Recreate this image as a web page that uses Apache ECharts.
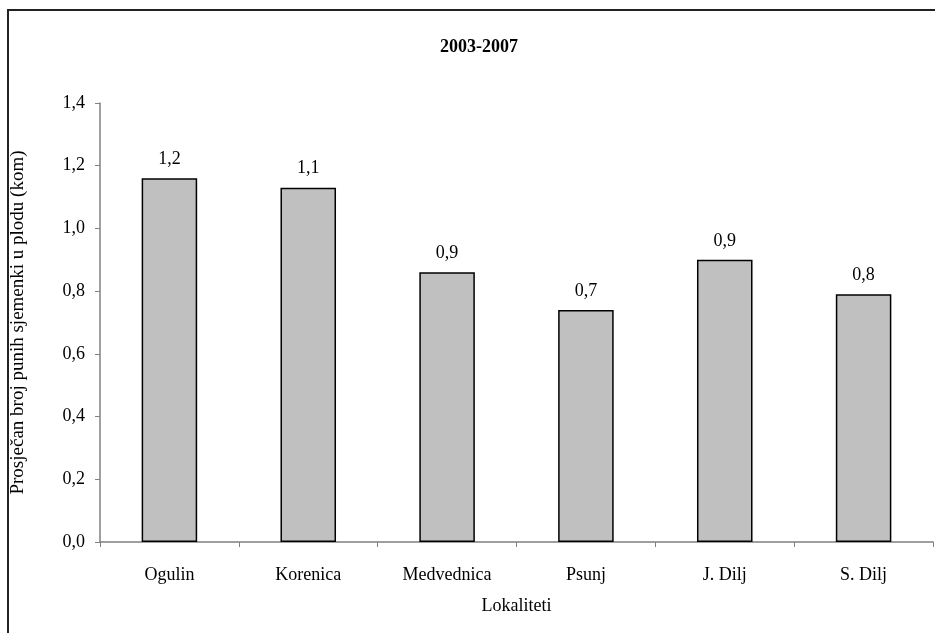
<!DOCTYPE html>
<html>
<head>
<meta charset="utf-8">
<script src="https://cdn.jsdelivr.net/npm/echarts@6/dist/echarts.min.js"></script>
<style>
html, body { margin: 0; padding: 0; background: #fff; }
#app { width: 935px; height: 633px; }
</style>
</head>
<body>
<div id="app"></div>
<script>
var categories = ['Ogulin', 'Korenica', 'Medvednica', 'Psunj', 'J. Dilj', 'S. Dilj'];
var values = [1.16, 1.13, 0.86, 0.74, 0.90, 0.79];
var yTicks = [0, 0.2, 0.4, 0.6, 0.8, 1.0, 1.2, 1.4];

var font = 'Liberation Serif, Times New Roman, serif';

function comma(v, d) {
    return v.toFixed(d).replace('.', ',');
}

var option = {
    animation: false,
    backgroundColor: '#fff',
    textStyle: { fontFamily: font },
    title: {
        text: '2003-2007',
        left: 435,
        top: 33,
        textStyle: { fontFamily: font, fontSize: 18, fontWeight: 'bold', color: '#000' }
    },
    graphic: [{
        type: 'rect',
        shape: { x: 8, y: 10, width: 1200, height: 1200 },
        style: { fill: 'none', stroke: '#222', lineWidth: 2 }
    }],
    grid: { left: 100, right: 2, top: 103, bottom: 91 },
    xAxis: {
        type: 'category',
        data: categories,
        name: 'Lokaliteti',
        nameLocation: 'middle',
        nameGap: 55,
        nameTextStyle: { fontFamily: font, fontSize: 18, color: '#000' },
        axisLine: { lineStyle: { color: '#808080', width: 1.5 } },
        axisTick: { show: true, length: 5, lineStyle: { color: '#808080' } },
        axisLabel: { margin: 24, fontFamily: font, fontSize: 18, color: '#000' },
        splitLine: { show: false }
    },
    yAxis: {
        type: 'value',
        min: yTicks[0],
        max: yTicks[yTicks.length - 1],
        interval: 0.2,
        name: 'Prosječan broj punih sjemenki u plodu (kom)',
        nameLocation: 'middle',
        nameGap: 72,
        nameTextStyle: { fontFamily: font, fontSize: 19, color: '#000' },
        axisLine: { show: true, lineStyle: { color: '#808080', width: 1.5 } },
        axisTick: { show: true, length: 5, lineStyle: { color: '#808080' } },
        axisLabel: {
            margin: 15, fontFamily: font, fontSize: 18, color: '#000',
            formatter: function (v) { return comma(v, 1); }
        },
        splitLine: { show: false }
    },
    series: [{
        type: 'bar',
        data: values,
        barWidth: '40%',
        itemStyle: { color: '#c0c0c0', borderColor: '#000', borderWidth: 1.5 },
        label: {
            show: true,
            position: 'top',
            distance: 10,
            fontFamily: font,
            fontSize: 18,
            color: '#000',
            formatter: function (p) { return comma(p.value, 1); }
        }
    }]
};

var myChart = echarts.init(document.getElementById('app'));
myChart.setOption(option);
</script>
</body>
</html>
